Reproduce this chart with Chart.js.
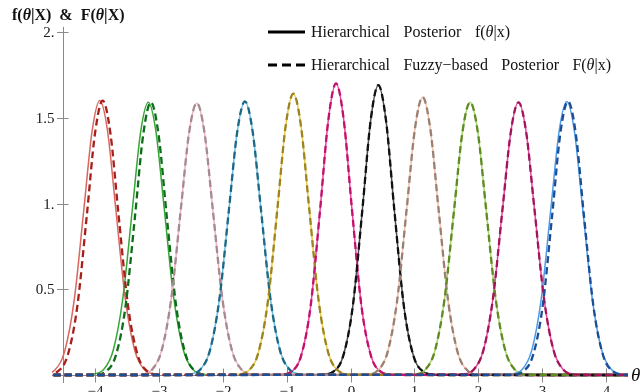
<!DOCTYPE html>
<html>
<head>
<meta charset="utf-8">
<script src="https://cdn.jsdelivr.net/npm/chart.js@4/dist/chart.umd.min.js"></script>
<style>
  html, body { margin: 0; padding: 0; background: #ffffff; }
  #c { display: block; }
</style>
</head>
<body>
<canvas id="c" width="641" height="392"></canvas>
<script>
// ---------------- data ----------------
const thetaOffsets = [-0.9, -0.7, -0.55, -0.4, -0.25, -0.12, 0, 0.12, 0.25, 0.4, 0.55, 0.7, 0.9];
const domain = [-5, 5];

const solidCenters  = [-3.93, -3.17, -2.41, -1.655, -0.897, -0.227, 0.436, 1.13, 1.875, 2.633, 3.39];
const dashedCenters = [-3.885, -3.13, -2.41, -1.655, -0.897, -0.227, 0.436, 1.13, 1.875, 2.633, 3.41];

const fRed    = [0.002, 0.031, 0.140, 0.442, 0.968, 1.425, 1.600, 1.425, 0.968, 0.442, 0.140, 0.031, 0.002];
const FRed    = [0.001, 0.022, 0.114, 0.395, 0.927, 1.411, 1.600, 1.411, 0.927, 0.395, 0.114, 0.022, 0.001];
const fGreen  = [0.002, 0.032, 0.144, 0.446, 0.968, 1.418, 1.590, 1.418, 0.968, 0.446, 0.144, 0.032, 0.002];
const FGreen  = [0.001, 0.022, 0.113, 0.392, 0.921, 1.402, 1.590, 1.402, 0.921, 0.392, 0.113, 0.022, 0.001];
const fPink   = [0.002, 0.032, 0.145, 0.447, 0.968, 1.415, 1.585, 1.415, 0.968, 0.447, 0.145, 0.032, 0.002];
const FPink   = [0.002, 0.032, 0.145, 0.447, 0.968, 1.415, 1.585, 1.415, 0.968, 0.447, 0.145, 0.032, 0.002];
const fBlue   = [0.002, 0.032, 0.142, 0.444, 0.968, 1.421, 1.595, 1.421, 0.968, 0.444, 0.142, 0.032, 0.002];
const FBlue   = [0.002, 0.032, 0.142, 0.444, 0.968, 1.421, 1.595, 1.421, 0.968, 0.444, 0.142, 0.032, 0.002];
const fGold   = [0.002, 0.026, 0.127, 0.425, 0.967, 1.452, 1.640, 1.452, 0.967, 0.425, 0.127, 0.026, 0.002];
const FGold   = [0.002, 0.026, 0.127, 0.425, 0.967, 1.452, 1.640, 1.452, 0.967, 0.425, 0.127, 0.026, 0.002];
const fMag    = [0.001, 0.020, 0.109, 0.397, 0.964, 1.490, 1.700, 1.490, 0.964, 0.397, 0.109, 0.020, 0.001];
const FMag    = [0.001, 0.020, 0.109, 0.397, 0.964, 1.490, 1.700, 1.490, 0.964, 0.397, 0.109, 0.020, 0.001];
const fBlack  = [0.001, 0.021, 0.112, 0.402, 0.965, 1.485, 1.690, 1.485, 0.965, 0.402, 0.112, 0.021, 0.001];
const FBlack  = [0.001, 0.021, 0.112, 0.402, 0.965, 1.485, 1.690, 1.485, 0.965, 0.402, 0.112, 0.021, 0.001];
const fTan    = [0.002, 0.028, 0.132, 0.432, 0.967, 1.437, 1.620, 1.437, 0.967, 0.432, 0.132, 0.028, 0.002];
const FTan    = [0.002, 0.028, 0.132, 0.432, 0.967, 1.437, 1.620, 1.437, 0.967, 0.432, 0.132, 0.028, 0.002];
const fOlive  = [0.002, 0.032, 0.144, 0.446, 0.968, 1.418, 1.590, 1.418, 0.968, 0.446, 0.144, 0.032, 0.002];
const FOlive  = [0.002, 0.032, 0.144, 0.446, 0.968, 1.418, 1.590, 1.418, 0.968, 0.446, 0.144, 0.032, 0.002];
const fMag2   = [0.002, 0.032, 0.144, 0.446, 0.968, 1.418, 1.590, 1.418, 0.968, 0.446, 0.144, 0.032, 0.002];
const FMag2   = [0.002, 0.032, 0.144, 0.446, 0.968, 1.418, 1.590, 1.418, 0.968, 0.446, 0.144, 0.032, 0.002];
const fBlue2  = [0.002, 0.032, 0.142, 0.444, 0.968, 1.421, 1.595, 1.421, 0.968, 0.444, 0.142, 0.032, 0.002];
const FBlue2  = [0.001, 0.022, 0.114, 0.395, 0.927, 1.411, 1.595, 1.411, 0.927, 0.395, 0.114, 0.022, 0.001];

const solidSeries  = [fRed, fGreen, fPink, fBlue, fGold, fMag, fBlack, fTan, fOlive, fMag2, fBlue2];
const dashedSeries = [FRed, FGreen, FPink, FBlue, FGold, FMag, FBlack, FTan, FOlive, FMag2, FBlue2];

const solidColors  = ['#d8675f', '#36a636', '#ebb2be', '#68bde0', '#e8c944', '#e6439a', '#4a4a4a', '#f2bfa8', '#a5d36a', '#e2469a', '#4c9ae6'];
const dashedColors = ['#a51f1b', '#0c6c1a', '#a68a90', '#1d6985', '#9d8420', '#c3106e', '#111111', '#9b7f72', '#5f8b22', '#a3145c', '#1b4e96'];

const xTickValues = [-4, -3, -2, -1, 0, 1, 2, 3, 4];
const xTickLabels = ['\u22124', '\u22123', '\u22122', '\u22121', '0', '1', '2', '3', '4'];
const yTickValues = [0.5, 1, 1.5, 2];
const yTickLabels = ['0.5', '1.', '1.5', '2.'];
const xRange = [-4.68, 4.35];
const yRange = [0, 2];
const yAxisAt = -4.515;

const legendLine1 = ['Hierarchical', 'Posterior', [{ t: 'f(' }, { t: '\u03b8', i: true }, { t: '|x)' }]];
const legendLine2 = ['Hierarchical', 'Fuzzy\u2212based', 'Posterior', [{ t: 'F(' }, { t: '\u03b8', i: true }, { t: '|x)' }]];

// ---------------- build datasets ----------------
function curve(center, values, withTails) {
  const pts = thetaOffsets.map((o, i) => ({ x: center + o, y: values[i] }));
  if (withTails) {
    pts.unshift({ x: domain[0], y: 0 });
    pts.push({ x: domain[1], y: 0 });
  }
  return pts;
}

const datasets = [];
solidSeries.forEach((vals, i) => {
  datasets.push({
    data: curve(solidCenters[i], vals, false),
    borderColor: solidColors[i],
    borderWidth: 1.5,
    pointRadius: 0,
    cubicInterpolationMode: 'monotone',
    fill: false,
    order: 50 - i,
    clip: { left: 0, right: 0, top: 5, bottom: 3 }
  });
});
dashedSeries.forEach((vals, i) => {
  datasets.push({
    data: curve(dashedCenters[i], vals, true),
    borderColor: dashedColors[i],
    borderWidth: 2.3,
    borderDash: [7, 4],
    pointRadius: 0,
    cubicInterpolationMode: 'monotone',
    fill: false,
    order: 20 - i,
    clip: { left: 0, right: 0, top: 5, bottom: 3 }
  });
});

const SERIF = '"Liberation Serif", "DejaVu Serif", serif';

function runsWidth(ctx, runs, size) {
  let w = 0;
  runs.forEach(r => {
    ctx.font = (r.i ? 'italic ' : '') + (r.b ? 'bold ' : '') + size + 'px ' + SERIF;
    w += ctx.measureText(r.t).width;
  });
  return w;
}
function drawRuns(ctx, x, y, runs, size) {
  let cx = x;
  runs.forEach(r => {
    ctx.font = (r.i ? 'italic ' : '') + (r.b ? 'bold ' : '') + size + 'px ' + SERIF;
    ctx.fillText(r.t, cx, y);
    cx += ctx.measureText(r.t).width;
  });
}
// draw words spread so the line spans from x0 to x1
function drawSpread(ctx, words, x0, x1, y, size) {
  const items = words.map(w => (typeof w === 'string' ? [{ t: w }] : w));
  const widths = items.map(r => runsWidth(ctx, r, size));
  const total = widths.reduce((a, b) => a + b, 0);
  const gap = (x1 - x0 - total) / (items.length - 1);
  let x = x0;
  items.forEach((r, i) => {
    drawRuns(ctx, x, y, r, size);
    x += widths[i] + gap;
  });
}

const axesPlugin = {
  id: 'mmaAxes',
  beforeDatasetsDraw(chart) {
    const ctx = chart.ctx;
    const xs = chart.scales.x, ys = chart.scales.y;
    const y0 = ys.getPixelForValue(0);
    const xa = xs.getPixelForValue(yAxisAt);
    ctx.save();
    ctx.strokeStyle = '#8a8a8a';
    ctx.lineWidth = 1;
    ctx.beginPath();
    ctx.moveTo(chart.chartArea.left, y0 + 0.5);
    ctx.lineTo(chart.chartArea.right, y0 + 0.5);
    ctx.stroke();
    ctx.beginPath();
    ctx.moveTo(Math.round(xa) + 0.5, ys.getPixelForValue(2.03));
    ctx.lineTo(Math.round(xa) + 0.5, y0 + 8);
    ctx.stroke();
    ctx.fillStyle = '#1a1a1a';
    ctx.font = '15px ' + SERIF;
    ctx.textAlign = 'right';
    ctx.textBaseline = 'middle';
    yTickValues.forEach((v, i) => {
      const py = Math.round(ys.getPixelForValue(v)) + 0.5;
      ctx.beginPath();
      ctx.moveTo(xa - 5.5, py);
      ctx.lineTo(xa + 6, py);
      ctx.stroke();
      ctx.fillText(yTickLabels[i], xa - 8, py + 1);
    });
    ctx.textAlign = 'center';
    ctx.textBaseline = 'top';
    xTickValues.forEach((v, i) => {
      const px = Math.round(xs.getPixelForValue(v)) + 0.5;
      ctx.beginPath();
      ctx.moveTo(px, y0 - 6.5);
      ctx.lineTo(px, y0 + 7.5);
      ctx.stroke();
      ctx.fillText(xTickLabels[i], px, y0 + 10);
    });
    ctx.restore();
  },
  afterDraw(chart) {
    const ctx = chart.ctx;
    ctx.save();
    ctx.fillStyle = '#111111';
    ctx.textAlign = 'left';
    ctx.textBaseline = 'alphabetic';
    drawRuns(ctx, 12, 20, [
      { t: 'f(', b: true }, { t: '\u03b8', b: true, i: true }, { t: '|X)', b: true },
      { t: '  &  ', b: true },
      { t: 'F(', b: true }, { t: '\u03b8', b: true, i: true }, { t: '|X)', b: true }
    ], 16);
    ctx.font = 'italic 19px ' + SERIF;
    ctx.fillText('\u03b8', 631, 381);

    ctx.strokeStyle = '#000000';
    ctx.lineWidth = 3;
    ctx.beginPath();
    ctx.moveTo(268, 32); ctx.lineTo(305, 32);
    ctx.stroke();
    ctx.setLineDash([9, 5]);
    ctx.beginPath();
    ctx.moveTo(268, 65); ctx.lineTo(306, 65);
    ctx.stroke();
    ctx.setLineDash([]);

    drawSpread(ctx, legendLine1, 311, 510, 37, 16);
    drawSpread(ctx, legendLine2, 311, 611, 70, 16);
    ctx.restore();
  }
};

new Chart(document.getElementById('c'), {
  type: 'line',
  data: { datasets },
  options: {
    responsive: false,
    devicePixelRatio: 1,
    animation: false,
    layout: { padding: { left: 52, right: 13, top: 32, bottom: 17 } },
    scales: {
      x: { type: 'linear', display: false, min: xRange[0], max: xRange[1] },
      y: { type: 'linear', display: false, min: yRange[0], max: yRange[1] }
    },
    plugins: { legend: { display: false }, tooltip: { enabled: false } },
    elements: { line: { tension: 0.4 } }
  },
  plugins: [axesPlugin]
});
</script>
</body>
</html>
